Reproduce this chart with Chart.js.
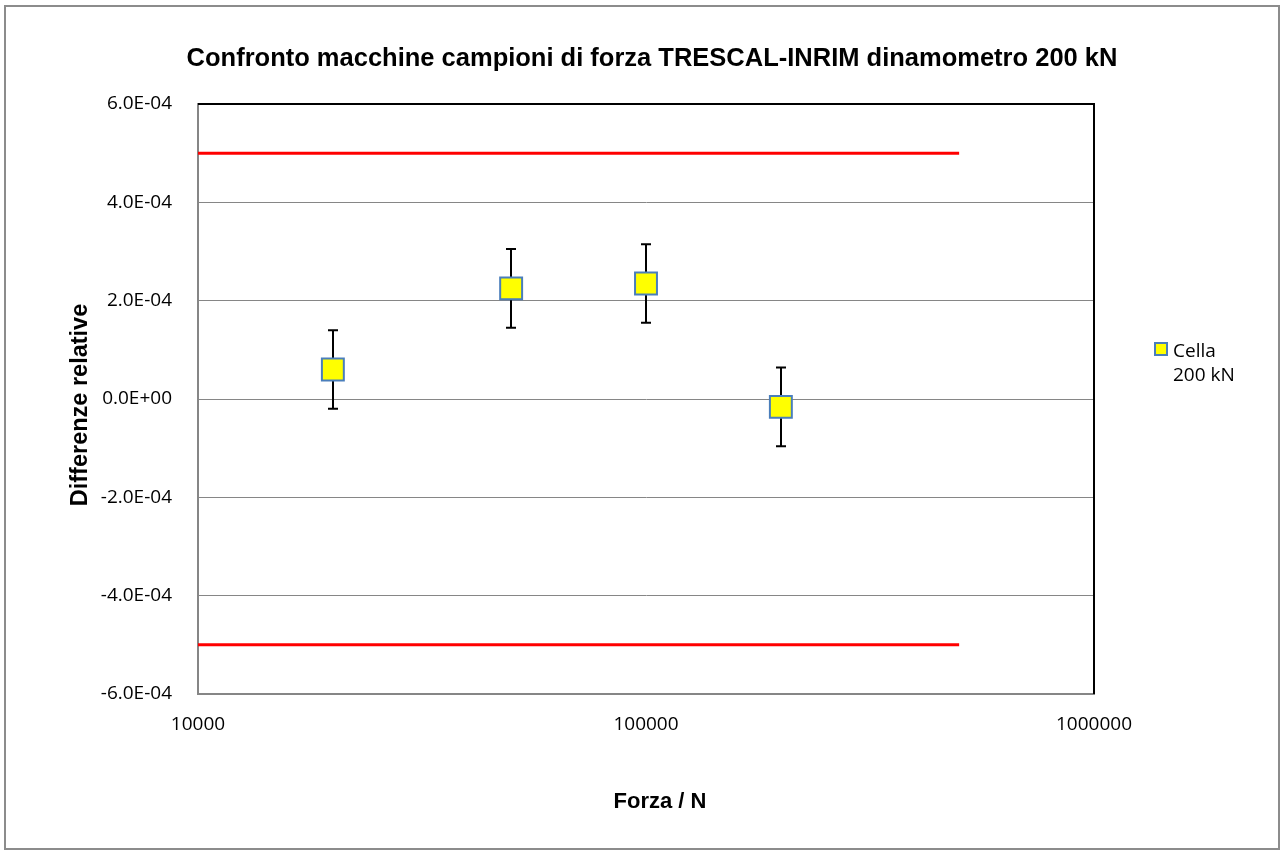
<!DOCTYPE html>
<html>
<head>
<meta charset="utf-8">
<script src="https://cdn.jsdelivr.net/npm/chart.js@4.4.1/dist/chart.umd.min.js"></script>
<style>
  html, body { margin: 0; padding: 0; background: #fff; }
  #wrap { width: 1284px; height: 854px; position: relative; }
</style>
</head>
<body>
<div id="wrap"><canvas id="c" width="1284" height="854"></canvas></div>
<script>
// ---- Data ----
const titleText = 'Confronto macchine campioni di forza TRESCAL-INRIM dinamometro 200 kN';
const xAxisTitle = 'Forza / N';
const yAxisTitle = 'Differenze relative';
const seriesName = ['Cella', '200 kN'];
const forces = [20000, 50000, 100000, 200000];
const relDiff = [6.0e-5, 2.25e-4, 2.35e-4, -1.6e-5];
const uncert = [8.0e-5, 8.0e-5, 8.0e-5, 8.0e-5];
const limitX = [10000, 500000];
const limitUpper = [5e-4, 5e-4];
const limitLower = [-5e-4, -5e-4];
const xTicks = [10000, 100000, 1000000];
const yMin = -6e-4, yMax = 6e-4, yStep = 2e-4;

const TICK_FONT = { family: '"Open Sans", sans-serif', size: 19 };
const AXIS_GRAY = '#868686';

function fmtExp(v) {
  if (Math.abs(v) < 1e-12) return '0.0E+00';
  const s = v.toExponential(1);
  const [m, e] = s.split('e');
  const ei = parseInt(e, 10);
  const sign = ei < 0 ? '-' : '+';
  const ea = String(Math.abs(ei)).padStart(2, '0');
  return m + 'E' + sign + ea;
}

const extrasPlugin = {
  id: 'extras',
  beforeDraw(chart) {
    const ctx = chart.ctx;
    ctx.save();
    ctx.fillStyle = '#fff';
    ctx.fillRect(0, 0, chart.width, chart.height);
    ctx.restore();
  },
  beforeDatasetsDraw(chart) {
    const ctx = chart.ctx;
    const xs = chart.scales.x, ys = chart.scales.y;
    ctx.save();
    ctx.strokeStyle = '#000';
    ctx.lineWidth = 2;
    forces.forEach((f, i) => {
      const px = Math.round(xs.getPixelForValue(f));
      const pTop = ys.getPixelForValue(relDiff[i] + uncert[i]);
      const pBot = ys.getPixelForValue(relDiff[i] - uncert[i]);
      ctx.beginPath();
      ctx.moveTo(px, pTop); ctx.lineTo(px, pBot);
      ctx.moveTo(px - 5, pTop); ctx.lineTo(px + 5, pTop);
      ctx.moveTo(px - 5, pBot); ctx.lineTo(px + 5, pBot);
      ctx.stroke();
    });
    ctx.restore();
  },
  afterDraw(chart) {
    const ctx = chart.ctx;
    const a = chart.chartArea;
    ctx.save();
    ctx.strokeStyle = '#000';
    ctx.lineWidth = 2;
    ctx.beginPath();
    ctx.moveTo(a.left, a.top);
    ctx.lineTo(a.right, a.top);
    ctx.lineTo(a.right, a.bottom);
    ctx.stroke();
    ctx.strokeStyle = '#8c8c8c';
    ctx.lineWidth = 2;
    ctx.strokeRect(5, 6, 1274, 843);
    ctx.fillStyle = '#000';
    ctx.font = 'bold 25.5px "Liberation Sans", Arial, sans-serif';
    ctx.textAlign = 'center';
    ctx.textBaseline = 'alphabetic';
    ctx.fillText(titleText, 652, 66);
    ctx.font = 'bold 22px "Liberation Sans", Arial, sans-serif';
    ctx.fillText(xAxisTitle, 660, 808);
    ctx.save();
    ctx.translate(87, 405);
    ctx.rotate(-Math.PI / 2);
    ctx.font = 'bold 23.5px "Liberation Sans", Arial, sans-serif';
    ctx.fillText(yAxisTitle, 0, 0);
    ctx.restore();
    ctx.fillStyle = '#FFFF00';
    ctx.fillRect(1155, 343, 12, 12);
    ctx.strokeStyle = '#4A7EBB';
    ctx.lineWidth = 2;
    ctx.strokeRect(1155, 343, 12, 12);
    ctx.fillStyle = '#000';
    ctx.textAlign = 'left';
    ctx.font = '19px "Open Sans", sans-serif';
    ctx.fillText(seriesName[0], 1173, 357);
    ctx.fillText(seriesName[1], 1173, 381);
    ctx.restore();
  }
};

const toPts = (xs, ys) => xs.map((x, i) => ({ x: x, y: ys[i] }));

new Chart(document.getElementById('c'), {
  type: 'scatter',
  data: {
    datasets: [
      {
        label: 'upper',
        data: toPts(limitX, limitUpper),
        showLine: true, borderColor: '#FF0000', borderWidth: 3,
        pointRadius: 0, fill: false
      },
      {
        label: 'lower',
        data: toPts(limitX, limitLower),
        showLine: true, borderColor: '#FF0000', borderWidth: 3,
        pointRadius: 0, fill: false
      },
      {
        label: seriesName.join(' '),
        data: toPts(forces, relDiff),
        pointStyle: 'rect', pointRadius: 15.5,
        backgroundColor: '#FFFF00', borderColor: '#4A7EBB', borderWidth: 2
      }
    ]
  },
  options: {
    responsive: false,
    animation: false,
    events: [],
    layout: { padding: { top: 104, left: 0, right: 190, bottom: 0 } },
    plugins: { legend: { display: false }, title: { display: false }, tooltip: { enabled: false } },
    scales: {
      x: {
        type: 'logarithmic',
        min: xTicks[0], max: xTicks[xTicks.length - 1],
        afterBuildTicks(scale) { scale.ticks = xTicks.map(v => ({ value: v })); },
        afterFit(scale) { scale.height = 160; },
        grid: { display: false, drawTicks: false },
        border: { display: true, color: AXIS_GRAY, width: 2 },
        ticks: {
          color: '#000', font: TICK_FONT, padding: 19, maxRotation: 0, autoSkip: false,
          callback: (v) => String(v)
        }
      },
      y: {
        type: 'linear',
        min: yMin, max: yMax,
        ticks: {
          stepSize: yStep, color: '#000', font: TICK_FONT, padding: 26,
          callback: (v) => fmtExp(v)
        },
        afterFit(scale) { scale.width = 198; },
        grid: { color: AXIS_GRAY, lineWidth: 1, drawTicks: false },
        border: { display: true, color: AXIS_GRAY, width: 2 }
      }
    }
  },
  plugins: [extrasPlugin]
});
</script>
</body>
</html>
